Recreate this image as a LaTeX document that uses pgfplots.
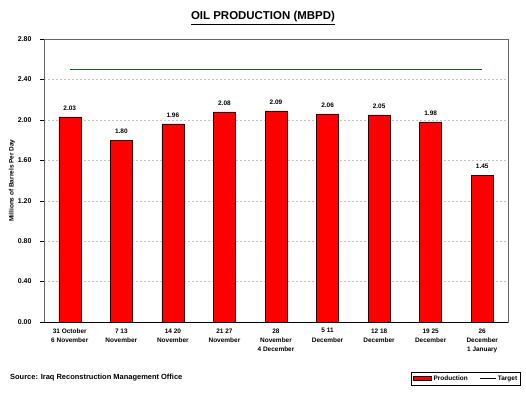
\documentclass[border=0pt]{standalone}
\usepackage{pgfplots}
\pgfplotsset{compat=1.18}
\usepackage{fontspec}
\setmainfont{Liberation Sans}
\definecolor{targetgreen}{RGB}{30,100,30}
\begin{document}
\begin{tikzpicture}
\begin{axis}[
  at={(0,0)}, anchor=south west,
  scale only axis, width=464bp, height=283bp,
  xmin=-0.5, xmax=8.5, ymin=0, ymax=2.8,
  ytick={0,0.4,...,2.81},
  xtick={0,...,8},
  ytick pos=left, xtick pos=bottom,
  xticklabels={{31 October\\6 November},{7 13\\November},{14 20\\November},{21 27\\November},{28\\November\\4 December},{5 11\\December},{12 18\\December},{19 25\\December},{26\\December\\1 January}},
  x tick label style={align=center, font=\bfseries\fontsize{6.5}{9.5}\selectfont, yshift=1bp},
  major x tick style={draw=none},
  extra x ticks={-0.5,0.5,1.5,2.5,3.5,4.5,5.5,6.5,7.5,8.5},
  extra x tick labels={},
  extra x tick style={major tick length=5bp, tick align=outside, tick style={black, draw=black}, grid=none},
  /pgf/number format/assume math mode=true,
  yticklabel style={/pgf/number format/fixed, /pgf/number format/fixed zerofill, /pgf/number format/precision=2, font=\bfseries\fontsize{7}{8}\selectfont, xshift=-5bp},
  ytick style={black}, tick align=outside, major tick length=4bp,
  ymajorgrids, grid style={gray!45, dash pattern=on 2bp off 2bp, line width=0.4pt},
  axis line style={gray!80!black},
  ylabel={Millions of Barrels Per Day},
  ylabel style={font=\bfseries\fontsize{6.5}{8}\selectfont, at={(axis description cs:-0.069,0.5)}, anchor=center},
  legend columns=2,
  legend style={at={(1.028,-0.2)}, anchor=east, font=\bfseries\fontsize{6.5}{8}\selectfont, draw=black, line width=0.6pt, inner sep=1.5pt, /tikz/every even column/.append style={column sep=10bp}},
]
\addplot[ybar, bar width=22bp, fill=red, draw=black!80!red, line width=0.5pt,
  nodes near coords, point meta=explicit symbolic,
  every node near coord/.append style={font=\bfseries\fontsize{6.5}{8}\selectfont, yshift=3bp},
  legend image code/.code={\fill[red, draw=black, line width=0.4pt] (0cm,-0.07cm) rectangle (0.65cm,0.07cm);}]
  table[meta=lab] {
x y lab
0 2.03 2.03
1 1.80 1.80
2 1.96 1.96
3 2.08 2.08
4 2.09 2.09
5 2.06 2.06
6 2.05 2.05
7 1.98 1.98
8 1.45 1.45
};
\addlegendentry{Production}
\addplot[targetgreen, line width=1pt,
  legend image code/.code={\draw[black, line width=0.5pt] (0cm,0cm) -- (0.55cm,0cm);}]
  coordinates {(0,2.5) (8,2.5)};
\addlegendentry{Target}
\draw[black, line width=0.8pt] (rel axis cs:0,0) -- (rel axis cs:1,0);
\end{axis}
\node[font=\bfseries\fontsize{11.5}{13}\selectfont] at (219bp,304bp) {\underline{OIL PRODUCTION (MBPD)}};
\node[anchor=west, font=\bfseries\fontsize{7.5}{9}\selectfont, inner sep=0pt] at (-34bp,-56bp) {Source: Iraq Reconstruction Management Office};
\pgfresetboundingbox
\useasboundingbox (-44bp,-72bp) rectangle (482bp,322bp);
\end{tikzpicture}
\end{document}
